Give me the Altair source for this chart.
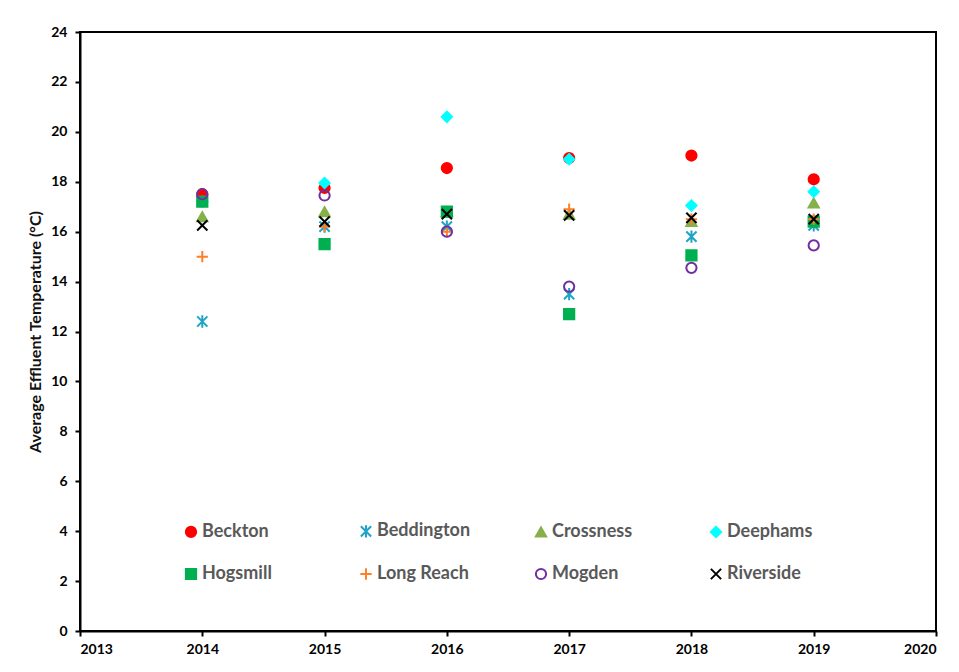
import altair as alt
import pandas as pd

years = [2014, 2015, 2016, 2017, 2018, 2019]
sites = ["Beckton", "Beddington", "Crossness", "Deephams",
         "Hogsmill", "Long Reach", "Mogden", "Riverside"]

beckton    = [17.5, 17.75, 18.55, 18.95, 19.05, 18.1]
beddington = [12.4, 16.2, 16.2, 13.5, 15.8, 16.25]
crossness  = [16.6, 16.8, 16.8, 16.7, 16.4, 17.15]
deephams   = [17.2, 17.95, 20.6, 18.9, 17.05, 17.6]
hogsmill   = [17.2, 15.5, 16.8, 12.7, 15.05, 16.4]
long_reach = [15.0, 16.2, 16.0, 16.9, 16.5, 16.5]
mogden     = [17.5, 17.45, 16.0, 13.8, 14.55, 15.45]
riverside  = [16.25, 16.4, 16.7, 16.65, 16.55, 16.5]

series = [beckton, beddington, crossness, deephams,
          hogsmill, long_reach, mogden, riverside]

colors = ["#ff0000", "#1ea4c6", "#86b04c", "#00ffff",
          "#00b050", "#ff7f27", "#7030a0", "#000000"]
fills = ["#ff0000", "#1ea4c6", "#86b04c", "#00ffff",
         "#00b050", "#ff7f27", "transparent", "#000000"]
shapes = ["circle",
          "M-1,-1L1,1M-1,1L1,-1M0,-1.2L0,1.2",
          "triangle-up",
          "diamond",
          "square",
          "M0,-1.1L0,1.1M-1.1,0L1.1,0",
          "circle",
          "M-1,-1L1,1M-1,1L1,-1"]

rows = []
for s, vals in zip(sites, series):
    for y, v in zip(years, vals):
        rows.append({"Site": s, "Year": y, "Temp": v})
df = pd.DataFrame(rows)

chart = alt.Chart(df).mark_point(size=105, strokeWidth=2, opacity=1).encode(
    x=alt.X("Year:Q",
            scale=alt.Scale(domain=[2013, 2020], nice=False, zero=False),
            axis=alt.Axis(title=None, values=list(range(2013, 2021)), format="d",
                          grid=False, domainColor="black", domainWidth=2,
                          tickColor="black", tickWidth=2, tickSize=5,
                          labelPadding=6, labelFont="Lato", labelFontSize=14,
                          labelFontWeight="bold", labelColor="black")),
    y=alt.Y("Temp:Q",
            scale=alt.Scale(domain=[0, 24], nice=False),
            axis=alt.Axis(title="Average Effluent Temperature (°C)",
                          values=list(range(0, 25, 2)),
                          grid=False, domainColor="black", domainWidth=2,
                          tickColor="black", tickWidth=2, tickSize=5,
                          labelPadding=8, labelFont="Lato", labelFontSize=14,
                          labelFontWeight="bold", labelColor="black",
                          titleFont="Lato", titleFontSize=16,
                          titleFontWeight="bold", titleColor="#111111",
                          titlePadding=7)),
    shape=alt.Shape("Site:N", scale=alt.Scale(domain=sites, range=shapes),
                    legend=alt.Legend(title=None, orient="none",
                                      legendX=102, legendY=490,
                                      direction="horizontal", columns=4,
                                      gridAlign="all",
                                      columnPadding=60, rowPadding=22,
                                      labelFont="Lato", labelFontSize=18,
                                      labelFontWeight="bold",
                                      labelColor="#595959",
                                      labelOffset=2, symbolSize=105,
                                      symbolStrokeWidth=2)),
    stroke=alt.Stroke("Site:N", scale=alt.Scale(domain=sites, range=colors)),
    fill=alt.Fill("Site:N", scale=alt.Scale(domain=sites, range=fills)),
).properties(
    width=856, height=599,
    padding={"left": 72, "top": 24, "right": 15, "bottom": 33},
    autosize=alt.AutoSizeParams(type="none"),
).configure(
    background="white",
    view=alt.ViewConfig(stroke="black", strokeWidth=2),
)

chart.save("out.html", embed_options={"renderer": "svg", "actions": False})
